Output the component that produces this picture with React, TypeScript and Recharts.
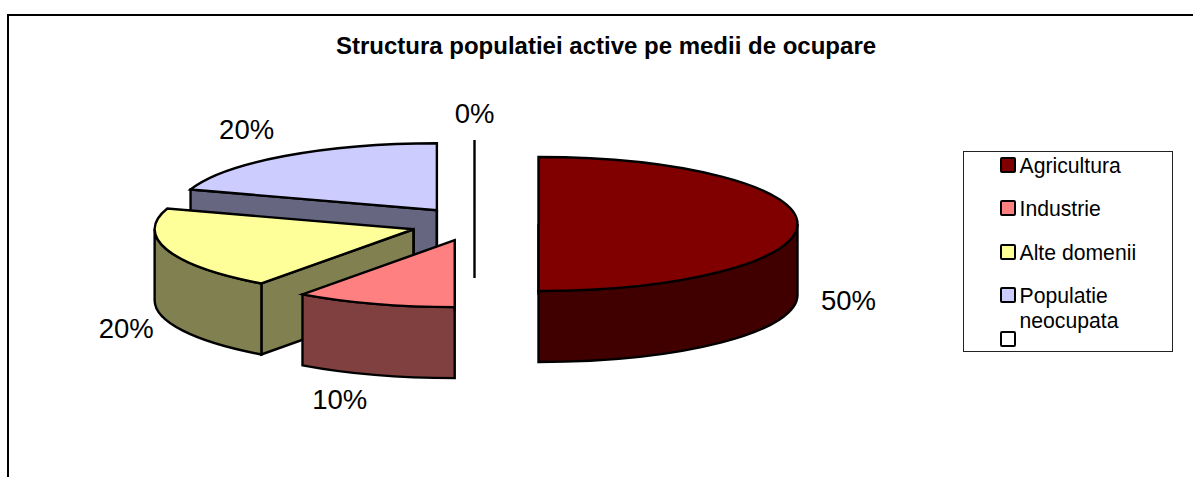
import React from 'react';
import { Legend, Pie, PieChart } from 'recharts';

// series, in legend order
const categories = ['Agricultura', 'Industrie', 'Alte domenii', 'Populatie neocupata', ''];
const shares = [50, 10, 20, 20, 0];
const topColors = ['#800000', '#FF8080', '#FFFF99', '#CCCCFF', '#FFFFFF'];
const sideColors = ['#400000', '#804040', '#808050', '#666680', '#808080'];

// label shift from the outer middle of each slice, in legend order
const labelShift = [[51, 76], [-35, 96], [-41, 79], [-38, -27], [0, -27]];

// drawn back to front, so the overlaps come out right
const pieData = categories
  .map((name, i) => ({ name, value: shares[i], fill: topColors[i], side: sideColors[i], shift: labelShift[i] }))
  .reverse();

const FONT = '"Liberation Sans", Arial, sans-serif';
const FLATTEN = 67 / 259;
const DEPTH = 71;
const EXPLODE_X = 64;
const EXPLODE_Y = 17;
const RAD = Math.PI / 180;

function sliceGeometry(cx: number, cy: number, r: number, a1: number, a2: number) {
  const ry = r * FLATTEN;
  const mid = (a1 + a2) / 2;
  const ax = cx + EXPLODE_X * Math.cos(mid * RAD);
  const ay = cy - EXPLODE_Y * Math.sin(mid * RAD);
  const at = (a: number, dy = 0): [number, number] => [ax + r * Math.cos(a * RAD), ay - ry * Math.sin(a * RAD) + dy];
  return { ry, mid, ax, ay, at };
}

function Slice(props: any) {
  const { cx, cy, outerRadius: r, startAngle: a1, endAngle: a2, fill, side } = props;
  const { ry, ax, ay, at } = sliceGeometry(cx, cy, r, a1, a2);
  const line = { stroke: '#000', strokeWidth: 2.4 };

  const faces: string[] = [];
  const face = (a: number) => {
    const [x, y] = at(a);
    faces.push(`M${ax},${ay} L${x},${y} L${x},${y + DEPTH} L${ax},${ay + DEPTH} Z`);
  };
  if (Math.cos(a1 * RAD) > 1e-6) face(a1);
  if (Math.cos(a2 * RAD) < -1e-6) face(a2);

  // the outer wall shows only on the near half of the ellipse
  const b1 = Math.max(a1, 180);
  const b2 = Math.min(a2, 360);
  let wall = '';
  if (b2 > b1) {
    const [x1, y1] = at(b1);
    const [x2, y2] = at(b2);
    wall = `M${x1},${y1} A${r},${ry} 0 0 0 ${x2},${y2} L${x2},${y2 + DEPTH} A${r},${ry} 0 0 1 ${x1},${y1 + DEPTH} Z`;
  }

  const [sx, sy] = at(a1);
  const [ex, ey] = at(a2);
  const large = a2 - a1 > 180 ? 1 : 0;
  const top = `M${ax},${ay} L${sx},${sy} A${r},${ry} 0 ${large} 0 ${ex},${ey} Z`;

  return (
    <g>
      {faces.map((d) => <path key={d} d={d} fill={side} {...line} />)}
      {wall && <path d={wall} fill={side} {...line} />}
      <path d={`M${ax},${ay} V${ay + DEPTH}`} {...line} />
      <path d={top} fill={fill} {...line} />
    </g>
  );
}

function sliceLabel(props: any) {
  const { cx, cy, outerRadius: r, startAngle: a1, endAngle: a2, value, shift } = props;
  const { mid, at } = sliceGeometry(cx, cy, r, a1, a2);
  const [x, y] = at(mid);
  return (
    <text x={x + shift[0]} y={y + shift[1]} textAnchor="middle" dominantBaseline="central" fontFamily={FONT} fontSize={27.5} fill="#000">
      {`${value}%`}
    </text>
  );
}

function LegendBox({ payload }: any) {
  const items = [...(payload || [])].reverse();
  return (
    <div style={{ position: 'relative', width: 210, height: 201, boxSizing: 'border-box', border: '1.5px solid #222', background: '#fff', fontFamily: FONT, fontSize: 21.2, color: '#000' }}>
      {items.map((item: any, i: number) => (
        <div key={i}>
          <div style={{ position: 'absolute', left: 36, top: 4.5 + i * 43.5, width: 16, height: 16, boxSizing: 'border-box', border: '2.5px solid #000', borderRadius: 2, background: item.color }} />
          <div style={{ position: 'absolute', left: 55.5, top: 0.5 + i * 43.6, width: 125, lineHeight: '25px', textAlign: 'left' }}>
            {categories[i]}
          </div>
        </div>
      ))}
    </div>
  );
}

export default function App() {
  return (
    <div style={{ position: 'absolute', left: 0, top: 0, width: 1193, height: 477, overflow: 'hidden' }}>
      <PieChart width={1193} height={477} margin={{ top: 0, right: 0, bottom: 0, left: 0 }}>
        <path d="M8,477 V15 H1193" fill="none" stroke="#000" strokeWidth={2} />
        <text x={606} y={54} textAnchor="middle" fontFamily={FONT} fontSize={24} fontWeight="bold" fill="#000">
          Structura populatiei active pe medii de ocupare
        </text>
        <Pie
          data={pieData}
          dataKey="value"
          nameKey="name"
          cx={474.5}
          cy={224}
          outerRadius={259}
          startAngle={90}
          endAngle={450}
          shape={Slice}
          label={sliceLabel}
          labelLine={false}
          isAnimationActive={false}
        />
        <Legend
          content={LegendBox}
          itemSorter={null}
          wrapperStyle={{ position: 'absolute', left: 963, top: 151, width: 210, height: 201, bottom: 'auto' }}
        />
      </PieChart>
    </div>
  );
}
